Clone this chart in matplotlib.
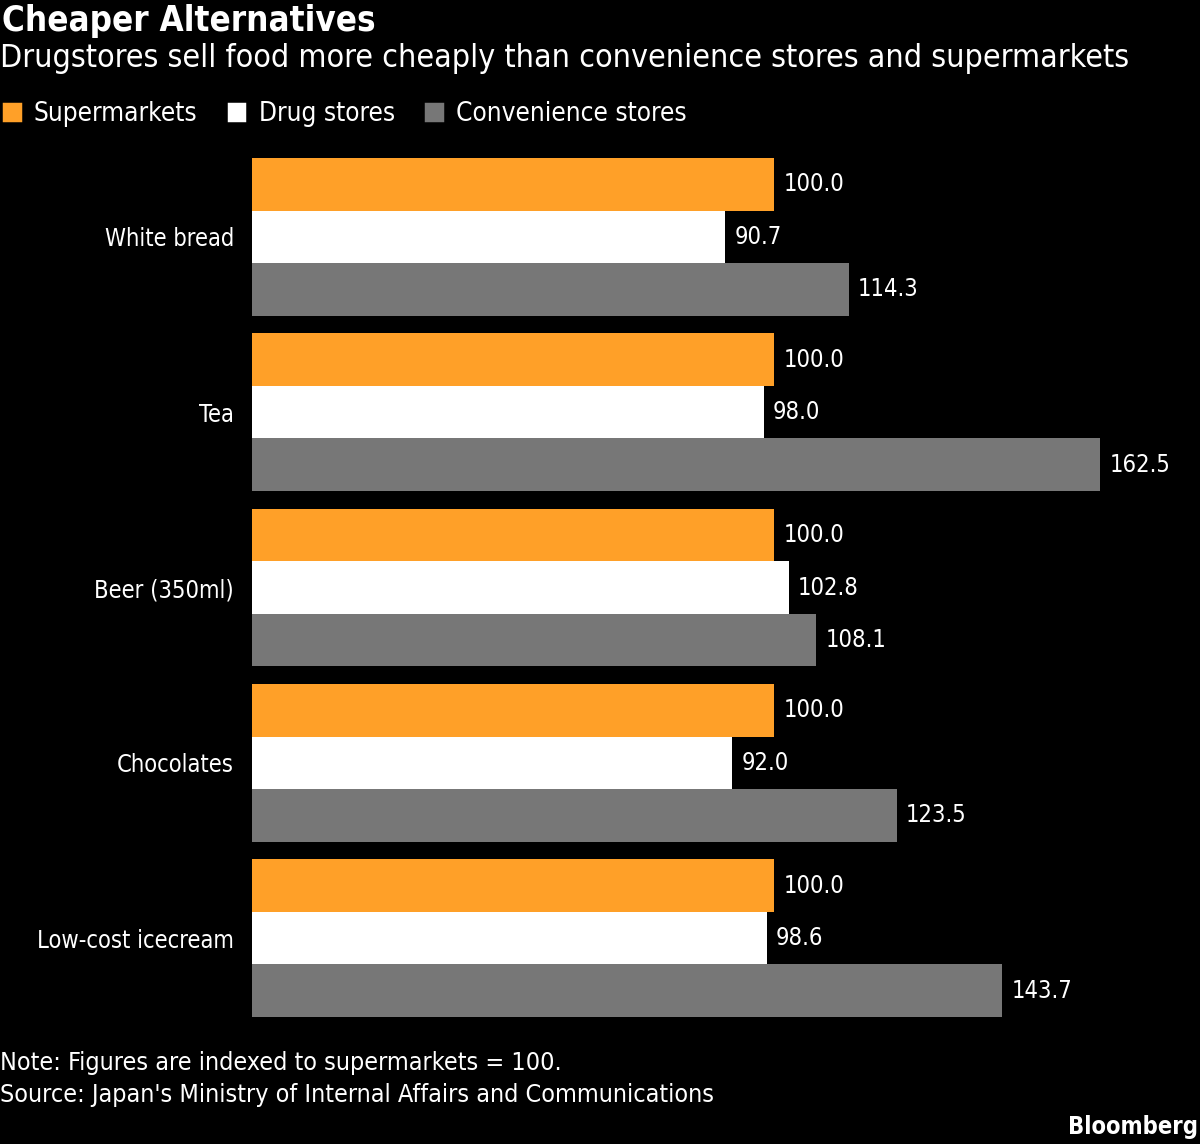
import matplotlib.pyplot as plt
import matplotlib.patches as mpatches
import numpy as np

# narrow sans to get close to the Bloomberg look
plt.rcParams['font.family'] = ['DejaVu Sans']
plt.rcParams['font.stretch'] = 'condensed'

# --- data ---
categories = ['White bread', 'Tea', 'Beer (350ml)', 'Chocolates', 'Low-cost icecream']
supermarkets = [100.0, 100.0, 100.0, 100.0, 100.0]
drug_stores = [90.7, 98.0, 102.8, 92.0, 98.6]
convenience = [114.3, 162.5, 108.1, 123.5, 143.7]
series_names = ['Supermarkets', 'Drug stores', 'Convenience stores']
colors = ['#FFA028', '#FFFFFF', '#777777']

fig = plt.figure(figsize=(12, 11.44), dpi=100, facecolor='black')
ax = fig.add_axes([252 / 1200, (1144 - 1017) / 1144, 948 / 1200, 859 / 1144])
ax.set_facecolor('black')

y = np.arange(len(categories))
h = 0.3
for k, (vals, c) in enumerate(zip([supermarkets, drug_stores, convenience], colors)):
    pos = y + (k - 1) * h
    ax.barh(pos, vals, height=h, color=c, edgecolor='none')
    for p, v in zip(pos, vals):
        ax.text(v + 1.8, p, f'{v:.1f}', color='white', fontsize=17, va='center', ha='left')

ax.set_xlim(0, 948 / 5.22)
ax.set_ylim(len(categories) - 0.55, -0.45)
ax.set_xticks([])
ax.set_yticks(y)
ax.set_yticklabels(categories, color='white', fontsize=17)
ax.tick_params(axis='y', length=0, pad=13)
for s in ax.spines.values():
    s.set_visible(False)

# titles
fig.text(0.002, 1 - 21 / 1144, 'Cheaper Alternatives', color='white', fontsize=25,
         fontweight='bold', va='center', ha='left')
fig.text(0.0, 1 - 59 / 1144, 'Drugstores sell food more cheaply than convenience stores and supermarkets',
         color='white', fontsize=23, va='center', ha='left')

# legend (rounded squares)
handles = [mpatches.Patch(facecolor=c, edgecolor=c, linewidth=2.5, joinstyle='round', label=n)
           for c, n in zip(colors, series_names)]
leg = fig.legend(handles=handles, loc='center left', bbox_to_anchor=(-0.0055, 1 - 114 / 1144), ncol=3,
                 frameon=False, fontsize=18.8, handlelength=0.6, handleheight=0.6,
                 handletextpad=0.55, columnspacing=1.2, borderaxespad=0)
for t in leg.get_texts():
    t.set_color('white')

# footer
fig.text(0.0, 1 - 1063 / 1144, 'Note: Figures are indexed to supermarkets = 100.', color='white',
         fontsize=18, va='center', ha='left')
fig.text(0.0, 1 - 1095 / 1144, "Source: Japan's Ministry of Internal Affairs and Communications",
         color='white', fontsize=18, va='center', ha='left')
fig.text(0.998, 1 - 1127 / 1144, 'Bloomberg', color='white', fontsize=17, fontweight='bold',
         va='center', ha='right')

fig.savefig('out.png', dpi=100, facecolor='black')
